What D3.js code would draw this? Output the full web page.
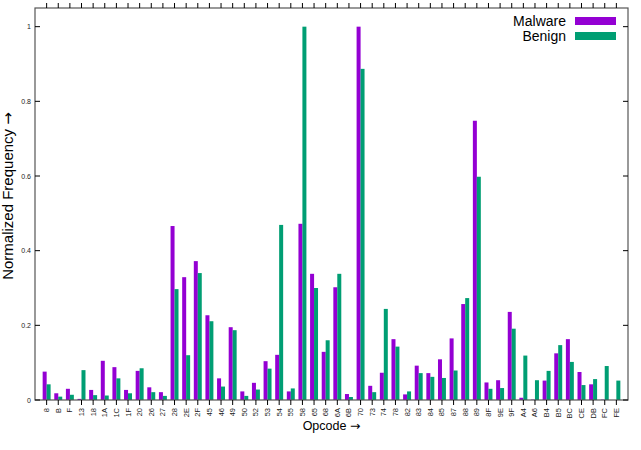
<!DOCTYPE html>
<html>
<head>
<meta charset="utf-8">
<script src="https://cdn.jsdelivr.net/npm/d3@7"></script>
<style>
  body { margin: 0; background: #fff; }
  svg { display: block; font-family: "Liberation Sans", Arial, sans-serif; }
</style>
</head>
<body>
<svg id="chart" width="641" height="450"></svg>
<script>
var opcodes = ['8','B','F','13','18','1A','1C','1F','20','26','27','28','2E','2F','45','46','49','50','52','53',
  '54','55','58','65','68','6A','6B','70','73','74','78','82','83','84','85','87','88','89','8F','9E',
  '9F','A4','A6','B4','B5','BC','CE','DB','FC','FE']

var malware = [0.076,0.018,0.030,0.003,0.027,0.105,0.088,0.027,0.078,0.034,0.021,0.466,0.329,0.372,0.227,0.058,0.195,0.023,0.046,0.104,
  0.121,0.023,0.472,0.338,0.129,0.302,0.016,1.0,0.038,0.073,0.163,0.015,0.092,0.072,0.109,0.165,0.257,0.748,0.047,0.053,
  0.236,0.006,0.001,0.052,0.125,0.163,0.075,0.042,0.001,0]

var benign = [0.042,0.009,0.014,0.080,0.013,0.012,0.058,0.018,0.085,0.021,0.011,0.297,0.120,0.340,0.211,0.036,0.187,0.011,0.028,0.084,
  0.469,0.031,1.0,0.300,0.160,0.338,0.008,0.887,0.021,0.244,0.143,0.023,0.072,0.062,0.059,0.079,0.273,0.598,0.030,0.032,
  0.191,0.119,0.053,0.078,0.147,0.102,0.040,0.056,0.091,0.052]

var yTicks = [0, 0.2, 0.4, 0.6, 0.8, 1]
var series = [
  {name: 'Malware', values: malware, color: '#9400d3', offset: -0.17},
  {name: 'Benign', values: benign, color: '#009e73', offset: 0.17}
]

var svg = d3.select('#chart')
var pLeft = 35, pRight = 628, pTop = 8, pBottom = 400

var x = d3.scaleLinear().domain([-1, opcodes.length]).range([pLeft, pRight])
var y = d3.scaleLinear().domain([0, 1.05]).range([pBottom, pTop])
var barW = x(0.344) - x(0)

// bars
series.forEach(function(s) {
  svg.append('g').selectAll('rect')
    .data(s.values)
    .enter().append('rect')
    .attr('x', function(d, i) { return x(i + s.offset) - barW / 2 })
    .attr('y', function(d) { return y(d) })
    .attr('width', barW)
    .attr('height', function(d) { return pBottom - y(d) })
    .attr('fill', s.color)
})

// frame
svg.append('rect')
  .attr('x', pLeft).attr('y', pTop)
  .attr('width', pRight - pLeft).attr('height', pBottom - pTop)
  .attr('fill', 'none').attr('stroke', '#555').attr('stroke-width', 1.2)

// x ticks bottom and top (outward)
var xt = svg.append('g')
opcodes.forEach(function(c, i) {
  xt.append('line').attr('x1', x(i)).attr('x2', x(i)).attr('y1', pBottom).attr('y2', pBottom + 5)
    .attr('stroke', '#000').attr('stroke-width', 1)
  xt.append('line').attr('x1', x(i)).attr('x2', x(i)).attr('y1', pTop).attr('y2', pTop - 5)
    .attr('stroke', '#000').attr('stroke-width', 1)
  xt.append('text')
    .attr('transform', 'translate(' + (x(i) + 2.5) + ',' + (pBottom + 8) + ')rotate(-90)')
    .attr('text-anchor', 'end')
    .attr('font-size', 7.5)
    .attr('fill', '#222')
    .text(c)
})

// y ticks left and right (inward)
var yt = svg.append('g')
yTicks.forEach(function(t) {
  yt.append('line').attr('x1', pLeft).attr('x2', pLeft + 5).attr('y1', y(t)).attr('y2', y(t))
    .attr('stroke', '#000')
  yt.append('line').attr('x1', pRight - 5).attr('x2', pRight).attr('y1', y(t)).attr('y2', y(t))
    .attr('stroke', '#000')
  yt.append('text')
    .attr('x', pLeft - 4).attr('y', y(t) + 2.5)
    .attr('text-anchor', 'end')
    .attr('font-size', 7)
    .attr('fill', '#222')
    .text(t)
})

// axis titles
var yTitle = svg.append('text')
  .attr('transform', 'translate(13,196)rotate(-90)')
  .attr('text-anchor', 'middle')
  .attr('font-size', 15)
yTitle.append('tspan').text('Normalized Frequency ')
yTitle.append('tspan').attr('font-family', 'DejaVu Sans').text('\u2192')

var xTitle = svg.append('text')
  .attr('x', (pLeft + pRight) / 2).attr('y', 430)
  .attr('text-anchor', 'middle')
  .attr('font-size', 12.5)
xTitle.append('tspan').text('Opcode ')
xTitle.append('tspan').attr('font-family', 'DejaVu Sans').text('\u2192')

// legend
var lg = svg.append('g')
series.forEach(function(s, k) {
  var ly = 21 + k * 15
  lg.append('text')
    .attr('x', 566).attr('y', ly + 5)
    .attr('text-anchor', 'end')
    .attr('font-size', 14)
    .text(s.name)
  lg.append('rect')
    .attr('x', 575).attr('y', ly - 4)
    .attr('width', 41).attr('height', 8)
    .attr('fill', s.color)
})
</script>
</body>
</html>
